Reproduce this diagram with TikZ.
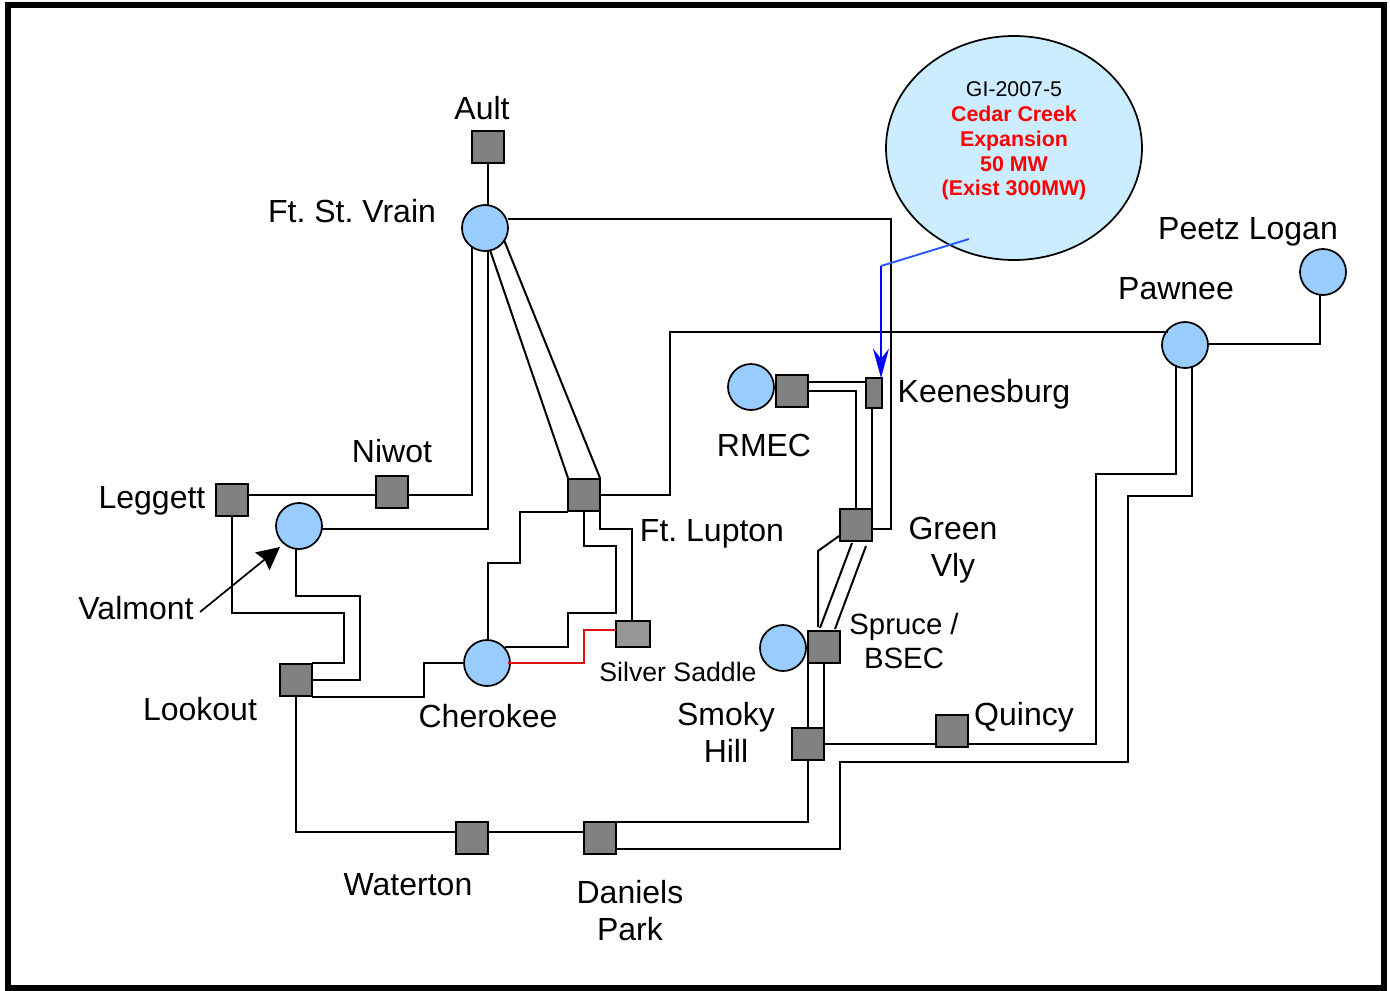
\documentclass[tikz,border=0pt]{standalone}
\usepackage{fontspec}
\setmainfont{Liberation Sans}
\usetikzlibrary{arrows.meta,shapes.geometric}
\definecolor{sqgray}{HTML}{808080}
\definecolor{lgray}{HTML}{969696}
\definecolor{cblue}{HTML}{99CCFF}
\definecolor{callout}{HTML}{CCECFF}
\definecolor{redline}{HTML}{E01010}
\tikzset{
 x=0.75pt,y=-0.75pt,
 sq/.style={draw=black,fill=sqgray,line width=1.6pt,minimum size=24.2pt,inner sep=0pt,outer sep=0pt,shape=rectangle},
 stn/.style={draw=black,fill=cblue,line width=1.3pt,circle,minimum size=34.5pt,inner sep=0pt,outer sep=0pt},
 wire/.style={draw=black,line width=1.5pt,line join=miter},
 lab/.style={inner sep=0pt,font=\fontsize{24}{27.5}\selectfont,align=center},
 small/.style={inner sep=0pt,font=\fontsize{20}{24}\selectfont,align=center},
 co/.style={inner sep=0pt,font=\fontsize{16}{18.6}\selectfont,align=center},
}
\begin{document}
\frenchspacing
\begin{tikzpicture}
\useasboundingbox (0,0) rectangle (1390,990);
\draw[line width=4.5pt,draw=black] (8,4.5) rectangle (1384,988);
% nodes
\node[sq] (ault) at (488,147) {};
\node[stn] (vrain) at (485,228) {};
\node[sq] (leggett) at (232,500) {};
\node[sq] (niwot) at (392,492) {};
\node[stn] (valmont) at (299,526) {};
\node[sq] (lupton) at (584,495) {};
\node[sq,fill=lgray,minimum width=25.5pt,minimum height=19.5pt] (silver) at (633,634) {};
\node[stn] (cherokee) at (487,663) {};
\node[sq] (lookout) at (296,680) {};
\node[sq] (waterton) at (472,838) {};
\node[sq] (daniels) at (600,838) {};
\node[sq] (smoky) at (808,744) {};
\node[sq] (quincy) at (952,731) {};
\node[sq] (spruce) at (824,647) {};
\node[stn] (sprucec) at (783,648) {};
\node[sq] (green) at (856,525) {};
\node[sq,minimum width=12pt,minimum height=22.5pt] (keenes) at (874,393) {};
\node[sq] (rmec) at (792,391) {};
\node[stn] (rmecc) at (751,387) {};
\node[stn] (pawnee) at (1185,345) {};
\node[stn] (peetz) at (1323,272) {};
\node[draw=black,fill=callout,line width=1.3pt,ellipse,minimum width=192pt,minimum height=168pt,inner sep=0pt,outer sep=0pt] (gi) at (1014,148) {};
% connectors
\draw[wire] (ault.south) -- (ault.south |- vrain.north);
\draw[wire] (vrain.east |- 0,219) -- (891,219) -- (891,529) -- (green.east |- 0,529);
\draw[wire] (472,246) -- (472,495) -- (niwot.east |- 0,495);
\draw[wire] (488,251) -- (488,529) -- (valmont.east |- 0,529);
\draw[wire] (490,250) -- (568,478);
\draw[wire] (504,240) -- (600,478);
\draw[wire] (niwot.west |- 0,495) -- (leggett.east |- 0,495);
\draw[wire] (leggett) -- (232,613) -- (344,613) -- (344,663) -- (lookout.east |- 0,663);
\draw[wire] (296,548) -- (296,596) -- (360,596) -- (360,680) -- (lookout.east |- 0,680);
\draw[wire] (lookout.east |- 0,697) -- (424,697) -- (424,663) -- (cherokee.west |- 0,663);
\draw[wire] (lupton.west |- 0,512) -- (520,512) -- (520,563) -- (488,563) -- (488,641);
\draw[wire] (584,512) -- (584,546) -- (616,546) -- (616,613) -- (568,613) -- (568,647) -- (505,647);
\draw[wire] (600,512) -- (600,529) -- (632,529) -- (632,621);
\draw[wire] (lupton.east) -- (670,495) -- (670,332) -- (1168,332);
\draw[draw=redline,line width=2.1pt] (508,663) -- (584,663) -- (584,630) -- (silver.west |- 0,630);
\draw[wire] (lookout.south) -- (296,832) -- (waterton.west |- 0,832);
\draw[wire] (waterton.east |- 0,832) -- (daniels.west |- 0,832);
\draw[wire] (daniels.east |- 0,822) -- (808,822) -- (smoky.south);
\draw[wire] (daniels.east |- 0,849) -- (840,849) -- (840,762) -- (1128,762) -- (1128,496) -- (1192,496) -- (1192,367);
\draw[wire] (smoky.east) -- (quincy.west |- 0,744);
\draw[wire] (quincy.east |- 0,744) -- (1096,744) -- (1096,474) -- (1176,474) -- (1176,365);
\draw[wire] (808,664) -- (808,727);
\draw[wire] (824,664) -- (824,727);
\draw[wire] (839,536) -- (818,551) -- (818,627);
\draw[wire] (852,543) -- (820,628);
\draw[wire] (866,546) -- (835,629);
\draw[wire] (rmec.east |- 0,382) -- (keenes.west |- 0,382);
\draw[wire] (rmec.east |- 0,391) -- (856,391) -- (856,509);
\draw[wire] (872,408) -- (872,509);
\draw[wire] (pawnee.east |- 0,344) -- (1320,344) -- (1320,294);
\draw[draw=blue!80!cyan!85!white,line width=1.4pt] (969,239) -- (881,266);
\draw[draw=blue,line width=1.5pt,-{Stealth[length=22pt,width=12pt,inset=7.5pt]}] (881,266) -- (881,378);
\draw[line width=1.3pt,-{Stealth[length=17pt,width=17pt,inset=2pt]}] (200,612) -- (280,547);
% labels
\node[lab] (tault) at (482,108) {Ault};
\node[lab] (tvrain) at (352,211) {Ft. St. Vrain};
\node[lab] (tpeetz) at (1248,232) {Peetz Logan};
\node[lab] (tpawnee) at (1176,289) {Pawnee};
\node[lab] (tkeen) at (984,394) {Keenesburg};
\node[lab] (trmec) at (764,445) {RMEC};
\node[lab] (tniwot) at (392,451) {Niwot};
\node[lab] (tlegg) at (152,501) {Leggett};
\node[lab] (tlupt) at (712,534) {Ft. Lupton};
\node[lab] (tgreen) at (953,550) {Green\\Vly};
\node[lab] (tvalm) at (136,608) {Valmont};
\node[lab,font=\fontsize{22}{25}\selectfont] (tspruce) at (904,641) {Spruce /\\BSEC};
\node[small] (tsilver) at (678,672) {Silver Saddle};
\node[lab] (tlook) at (200,709) {Lookout};
\node[lab] (tcher) at (488,716) {Cherokee};
\node[lab] (tsmoky) at (726,732.5) {Smoky\\Hill};
\node[lab] (tquincy) at (1024,717) {Quincy};
\node[lab] (twat) at (408,885) {Waterton};
\node[lab] (tdan) at (630,910.5) {Daniels\\Park};
\node[co] (tgi) at (1014,141) {GI-2007-5\\\textcolor{red}{\bfseries Cedar Creek}\\\textcolor{red}{\bfseries Expansion}\\\textcolor{red}{\bfseries 50 MW}\\\textcolor{red}{\bfseries (Exist 300MW)}};
\end{tikzpicture}
\end{document}
